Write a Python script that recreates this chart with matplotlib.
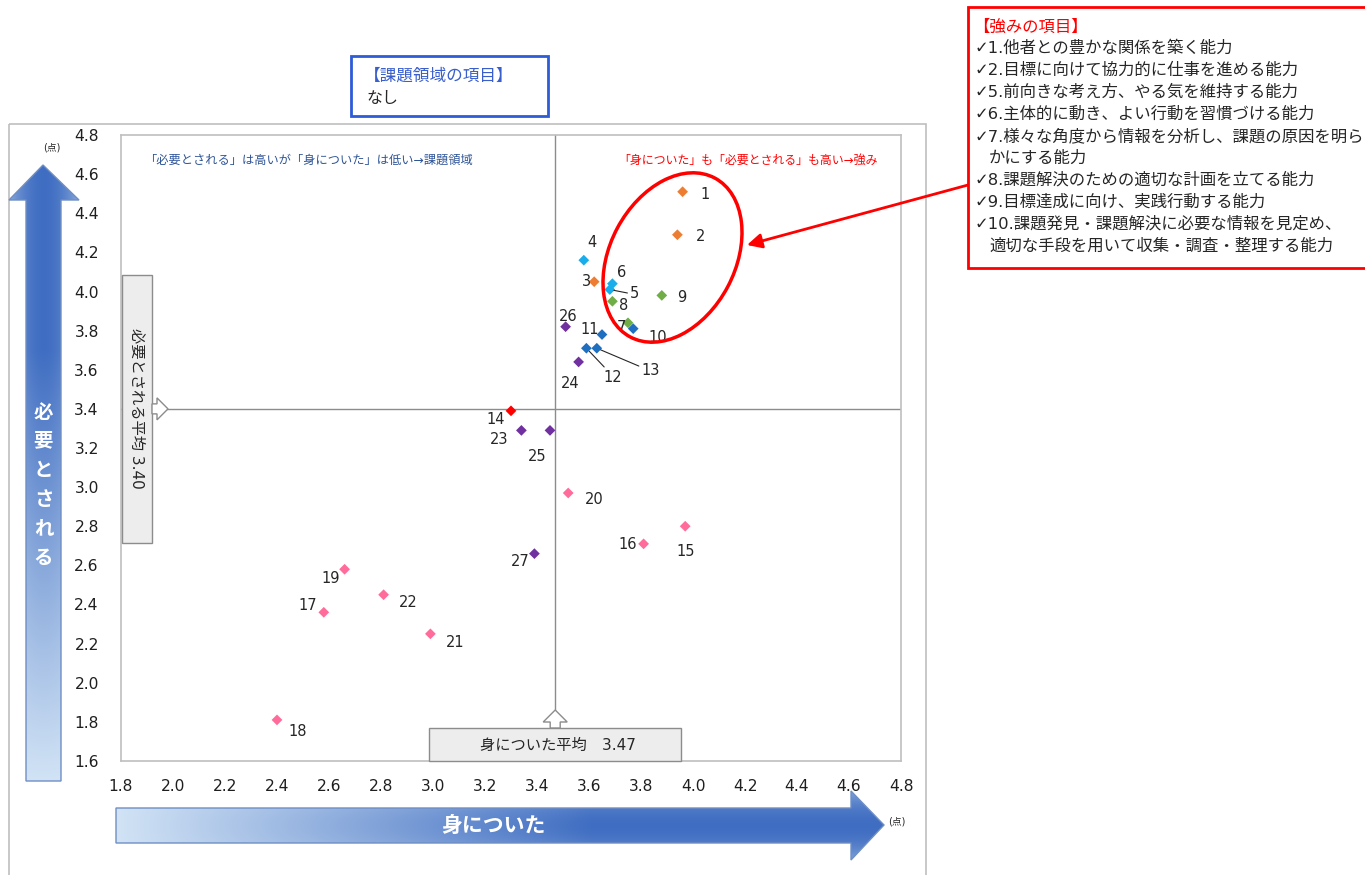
import numpy as np
import matplotlib
matplotlib.use("Agg")
import matplotlib.pyplot as plt
from matplotlib.patches import Polygon, Rectangle, Ellipse

plt.rcParams['font.family'] = ['DejaVu Sans', 'Noto Sans CJK JP']

# ---- data -------------------------------------------------------------
item_no = list(range(1, 28))
acquired = [3.96, 3.94, 3.62, 3.58, 3.68, 3.69, 3.75, 3.69, 3.88, 3.77,
            3.65, 3.59, 3.63, 3.30, 3.97, 3.81, 2.58, 2.40, 2.66, 3.52,
            2.99, 2.81, 3.34, 3.56, 3.45, 3.51, 3.39]
required = [4.51, 4.29, 4.05, 4.16, 4.01, 4.04, 3.84, 3.95, 3.98, 3.81,
            3.78, 3.71, 3.71, 3.39, 2.80, 2.71, 2.36, 1.81, 2.58, 2.97,
            2.25, 2.45, 3.29, 3.64, 3.29, 3.82, 2.66]
item_group = ['A', 'A', 'A', 'B', 'B', 'B', 'C', 'C', 'C', 'D',
              'D', 'D', 'D', 'E', 'F', 'F', 'F', 'F', 'F', 'F',
              'F', 'F', 'G', 'G', 'G', 'G', 'G']
mean_acquired = 3.47
mean_required = 3.40

x_ticks = [1.8, 2.0, 2.2, 2.4, 2.6, 2.8, 3.0, 3.2, 3.4, 3.6, 3.8, 4.0, 4.2, 4.4, 4.6, 4.8]
y_ticks = [1.6, 1.8, 2.0, 2.2, 2.4, 2.6, 2.8, 3.0, 3.2, 3.4, 3.6, 3.8, 4.0, 4.2, 4.4, 4.6, 4.8]

x_title = '身についた'
y_title = '必要とされる'
unit_label = '(点)'
quad_text_upper_left = '「必要とされる」は高いが「身についた」は低い→課題領域'
quad_text_upper_right = '「身についた」も「必要とされる」も高い→強み'
issue_title = '【課題領域の項目】'
issue_items = 'なし'
strength_title = '【強みの項目】'
strength_lines = [
    '✓1.他者との豊かな関係を築く能力',
    '✓2.目標に向けて協力的に仕事を進める能力',
    '✓5.前向きな考え方、やる気を維持する能力',
    '✓6.主体的に動き、よい行動を習慣づける能力',
    '✓7.様々な角度から情報を分析し、課題の原因を明ら',
    'かにする能力',
    '✓8.課題解決のための適切な計画を立てる能力',
    '✓9.目標達成に向け、実践行動する能力',
    '✓10.課題発見・課題解決に必要な情報を見定め、',
    '適切な手段を用いて収集・調査・整理する能力',
]

# ---- styles -------------------------------------------------------------
group_colors = {'A': '#ED7D31', 'B': '#1AADEB', 'C': '#70AD47', 'D': '#1F6FC0',
                'E': '#FF0000', 'F': '#FF6B9A', 'G': '#7030A0'}
# label offsets in pixels (right, down) relative to each marker
label_offsets = [(22, 3), (23, 2), (-8, 0), (8, -18), (25, 4), (9, -11), (-7, 5),
                 (11, 4), (20, 2), (25, 9), (-12, -5), (26, 29), (54, 22), (-15, 9),
                 (0, 25), (-16, 1), (-16, -7), (21, 12), (-14, 9), (26, 7), (25, 9),
                 (25, 8), (-22, 9), (-8, 22), (-13, 26), (3, -10), (-14, 8)]
leader_relpos = {5: (0.0, 0.5), 12: (0.2, 1.0), 13: (0.0, 0.7)}

W, H = 1365, 875
fig = plt.figure(figsize=(W / 100, H / 100), dpi=100)
fig.patch.set_facecolor('white')

# ---- main scatter axes --------------------------------------------------
ax = fig.add_axes([121 / W, 1 - 761 / H, (901 - 121) / W, (761 - 135) / H], zorder=2)
ax.set_xlim(1.8, 4.8)
ax.set_ylim(1.6, 4.8)
ax.set_xticks(x_ticks)
ax.set_yticks(y_ticks)
ax.set_xticklabels([f'{v:.1f}' for v in x_ticks])
ax.set_yticklabels([f'{v:.1f}' for v in y_ticks])
ax.tick_params(length=0, labelsize=11.2, colors='#1F1F1F')
ax.tick_params(axis='x', pad=13)
ax.tick_params(axis='y', pad=16)
for s in ax.spines.values():
    s.set_color('#BFBFBF')
    s.set_linewidth(1.2)

ax.axvline(mean_acquired, color='#8C8C8C', lw=1, zorder=1)
ax.axhline(mean_required, color='#8C8C8C', lw=1, zorder=1)

colors = [group_colors[g] for g in item_group]
ax.scatter(acquired, required, marker='D', s=30, c=colors, linewidths=0, zorder=3)

for n, xv, yv, (dx, dy) in zip(item_no, acquired, required, label_offsets):
    kw = {}
    if n in leader_relpos:
        kw['arrowprops'] = dict(arrowstyle='-', color='#262626', lw=0.8,
                                shrinkA=0, shrinkB=3, relpos=leader_relpos[n])
    ax.annotate(str(n), (xv, yv), xytext=(dx, -dy), textcoords='offset pixels',
                ha='center', va='center', fontsize=10.5, color='#262626', zorder=4, **kw)

ax.text(0.03, 0.96, quad_text_upper_left, transform=ax.transAxes, fontsize=8.8,
        color='#2F5597', ha='left', va='center')
ax.text(0.97, 0.96, quad_text_upper_right, transform=ax.transAxes, fontsize=8.6,
        color='#FF0000', ha='right', va='center')

# ---- pixel overlay for frames, arrows and callouts ----------------------
ov = fig.add_axes([0, 0, 1, 1], zorder=5)
ov.set_xlim(0, W)
ov.set_ylim(H, 0)
ov.axis('off')
ov.patch.set_alpha(0)


def data_to_px(x, y):
    d = ax.transData.transform((x, y))
    return ov.transData.inverted().transform(d)


# outer chart frame
ov.add_patch(Rectangle((9, 124), 917, 760, fill=False, ec='#BFBFBF', lw=1.2, zorder=1))

dark = np.array([0.25, 0.43, 0.76])
light = np.array([0.82, 0.89, 0.96])


def gradient_arrow(poly, img, extent):
    patch = Polygon(poly, closed=True, facecolor='none', edgecolor='#6E8EC4', lw=1, zorder=3)
    ov.add_patch(patch)
    im = ov.imshow(img, extent=extent, origin='upper', aspect='auto',
                   interpolation='bilinear', zorder=2)
    im.set_clip_path(patch)


# vertical axis arrow
hh, ww = 300, 80
t = np.linspace(0, 1, hh)[:, None]
u = np.linspace(-1, 1, ww)[None, :]
m = np.clip((t - 0.3) / 0.7, 0, 1)
m = m + 0.5 * u ** 2 * (1 - m)
img_v = dark + (light - dark) * np.clip(m, 0, 1)[..., None]
gradient_arrow([(43, 165), (79, 200), (61, 200), (61, 781), (26, 781), (26, 200), (9, 200)],
               img_v, (9, 79, 781, 165))
ys = np.linspace(412, 558, len(y_title))
for ch, yy in zip(y_title, ys):
    ov.text(43.5, yy, ch, color='white', fontsize=14, fontweight='bold',
            ha='center', va='center', zorder=4)
ov.text(52, 147, unit_label, fontsize=7, color='#262626', ha='center', va='center')

# horizontal axis arrow
hh, ww = 80, 400
v = np.linspace(-1, 1, hh)[:, None]
uu = np.linspace(0, 1, ww)[None, :]
m = np.clip(1 - uu / 0.62, 0, 1)
m = m + 0.45 * v ** 2 * (1 - m)
img_h = dark + (light - dark) * np.clip(m, 0, 1)[..., None]
gradient_arrow([(116, 808), (851, 808), (851, 791), (884, 825), (851, 860), (851, 843), (116, 843)],
               img_h, (116, 884, 860, 791))
ov.text(493, 826, x_title, color='white', fontsize=15, fontweight='bold',
        ha='center', va='center', zorder=4)
ov.text(897, 822, unit_label, fontsize=7, color='#262626', ha='center', va='center')

# mean label for the vertical scale
mx_px, my_px = data_to_px(mean_acquired, mean_required)
left_px, bottom_px = data_to_px(1.8, 1.6)
box_fc, box_ec = '#EDEDED', '#8C8C8C'
ov.add_patch(Rectangle((122, my_px - 134), 30, 268, fc=box_fc, ec=box_ec, lw=1, zorder=3))
ov.add_patch(Polygon([(152, my_px - 5), (157, my_px - 5), (157, my_px - 11), (168, my_px),
                      (157, my_px + 11), (157, my_px + 5), (152, my_px + 5)],
                     closed=True, fc='white', ec=box_ec, lw=1, zorder=3))
ov.text(137, my_px, f'必要とされる平均 {mean_required:.2f}', rotation=270, fontsize=11,
        color='#262626', ha='center', va='center', zorder=4)

# mean label for the horizontal scale
ov.add_patch(Rectangle((mx_px - 126, bottom_px - 33), 252, 33, fc=box_fc, ec=box_ec, lw=1, zorder=3))
ov.add_patch(Polygon([(mx_px - 5, bottom_px - 33), (mx_px - 5, bottom_px - 39),
                      (mx_px - 12, bottom_px - 39), (mx_px, bottom_px - 51),
                      (mx_px + 12, bottom_px - 39), (mx_px + 5, bottom_px - 39),
                      (mx_px + 5, bottom_px - 33)],
                     closed=True, fc='white', ec=box_ec, lw=1, zorder=3))
ov.text(mx_px + 3, bottom_px - 16, f'身についた平均　{mean_acquired:.2f}', fontsize=11,
        color='#262626', ha='center', va='center', zorder=4)

# issue-area callout
ov.add_patch(Rectangle((351, 56), 197, 60, fc='white', ec='#2E5BD6', lw=2, zorder=3))
ov.text(364, 76, issue_title, fontsize=12, color='#3A5FCD', ha='left', va='center', zorder=4)
ov.text(366, 98, issue_items, fontsize=11.5, color='#262626', ha='left', va='center', zorder=4)

# strengths callout
ov.add_patch(Ellipse((672.5, 257.5), 125, 180, angle=28, fill=False, ec='#FF0000', lw=2.5, zorder=4))
ov.annotate('', xy=(747, 245), xytext=(968, 185),
            arrowprops=dict(arrowstyle='-|>', color='#FF0000', lw=2, mutation_scale=22,
                            shrinkA=0, shrinkB=0), zorder=4)
ov.add_patch(Rectangle((968, 7), 420, 261, fc='white', ec='#FF0000', lw=2, zorder=3))
ov.text(973, 27, strength_title, fontsize=11.8, color='#FF0000', ha='left', va='center', zorder=4)
for i, line in enumerate(strength_lines):
    x0 = 975 if line.startswith('✓') else 989
    ov.text(x0, 48 + i * 22, line, fontsize=11.8, color='#262626',
            ha='left', va='center', zorder=4)

fig.savefig('out.png', dpi=100)
